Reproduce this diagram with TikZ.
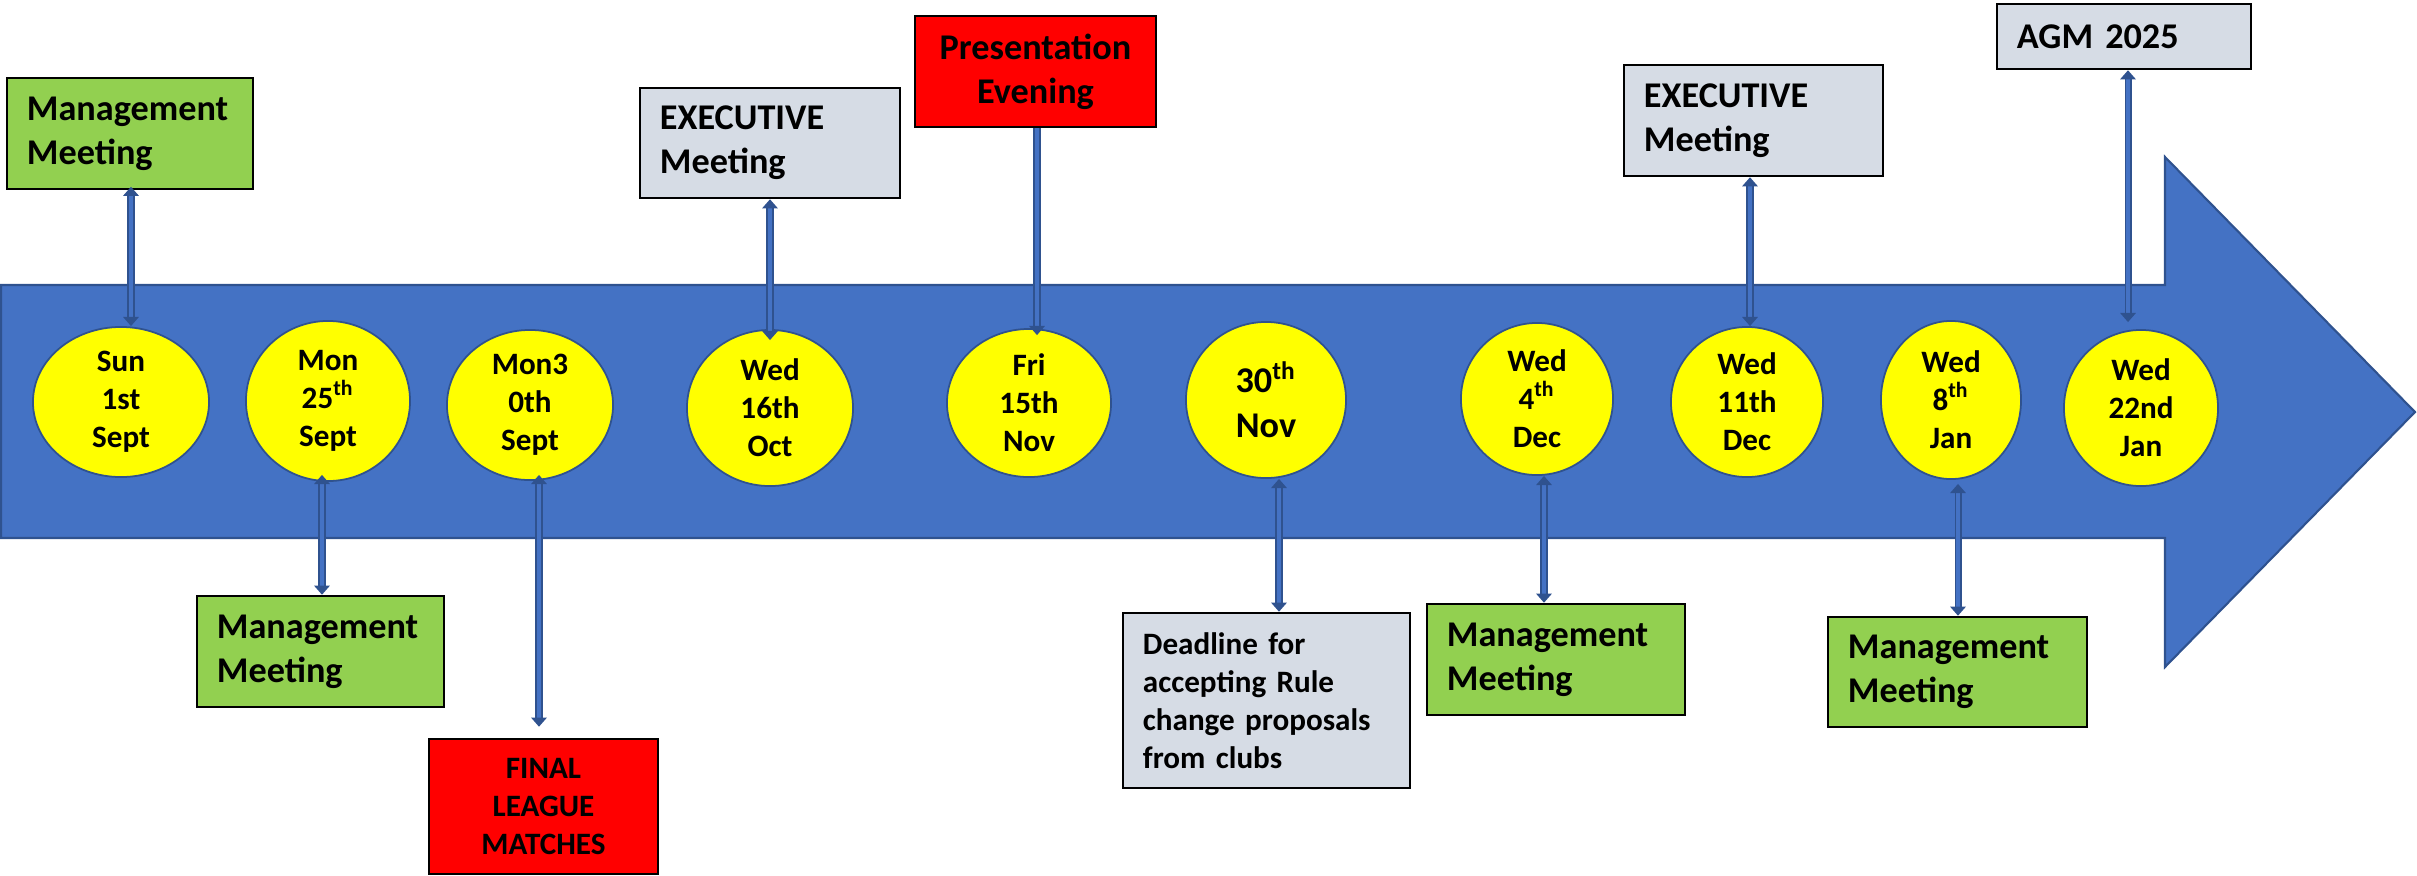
\documentclass[tikz,border=0pt]{standalone}
\usepackage{fontspec}
\setmainfont{Carlito}
\usetikzlibrary{shapes.geometric,arrows.meta}
\definecolor{barblue}{HTML}{4472C4}
\definecolor{dblue}{HTML}{2F528F}
\definecolor{dayyellow}{HTML}{FFFF00}
\definecolor{mgreen}{HTML}{92D050}
\definecolor{lgray}{HTML}{D6DCE5}
\definecolor{evred}{HTML}{FF0000}
\newcommand\evbig{\fontsize{10.3pt}{12.5pt}\selectfont\bfseries}
\newcommand\evsmall{\fontsize{8.85pt}{10.8pt}\selectfont\bfseries}
\newcommand\evmid{\fontsize{10.3pt}{12.8pt}\selectfont\bfseries}
\tikzset{
  evbox/.style={draw=black, line width=0.7pt, inner xsep=0.2cm, inner ysep=0pt, align=left, font=\evbig},
  cbox/.style={draw=black, line width=0.7pt, inner sep=0pt, align=center},
  day/.style={ellipse, draw=dblue, line width=0.5pt, fill=dayyellow, inner sep=0pt, align=center, font=\evsmall},
  conn/.style={draw=dblue, line width=0.55pt, double=barblue, double distance=0.9pt},
  tip/.tip={Triangle[length=2.6pt,width=4.4pt]},
  both/.style={conn, tip-tip},
  one/.style={conn, -tip}
}
\begin{document}
\begin{tikzpicture}[x=0.01cm, y=-0.01cm]
\useasboundingbox (0,0) rectangle (2417,875);
% timeline arrow
\path[fill=barblue, draw=dblue, line width=0.6pt]
  (1,285) -- (2165,285) -- (2165,157) -- (2415,412) -- (2165,667) -- (2165,538) -- (1,538) -- cycle;
% day ellipses
\node[day, minimum width=1.76cm, minimum height=1.50cm] (sun) at (121,402) {Sun\\1st\\Sept};
\node[day, minimum width=1.64cm, minimum height=1.60cm] (mon25) at (328,401) {Mon\\25\textsuperscript{th}\\Sept};
\node[day, minimum width=1.66cm, minimum height=1.50cm] (mon30) at (530,405) {Mon3\\0th\\Sept};
\node[day, minimum width=1.66cm, minimum height=1.56cm] (wed16) at (770,408) {Wed\\16th\\Oct};
\node[day, minimum width=1.64cm, minimum height=1.48cm] (fri) at (1029,403) {Fri\\15th\\Nov};
\node[day, minimum width=1.60cm, minimum height=1.56cm, font=\evmid] (nov30) at (1266,400) {30\textsuperscript{th}\\Nov};
\node[day, minimum width=1.52cm, minimum height=1.52cm] (wed4) at (1537,399) {Wed\\4\textsuperscript{th}\\Dec};
\node[day, minimum width=1.52cm, minimum height=1.50cm] (wed11) at (1747,402) {Wed\\11th\\Dec};
\node[day, minimum width=1.40cm, minimum height=1.58cm] (wed8) at (1951,400) {Wed\\8\textsuperscript{th}\\Jan};
\node[day, minimum width=1.54cm, minimum height=1.56cm] (wed22) at (2141,408) {Wed\\22nd\\Jan};
% event boxes
\node[evbox, fill=mgreen, text width=2.06cm, minimum height=1.11cm] (m1) at (130,133.5) {Management\\Meeting};
\node[evbox, fill=lgray, text width=2.20cm, minimum height=1.10cm] (ex1) at (770,143) {EXECUTIVE\\Meeting};
\node[cbox, fill=evred, font=\evbig, minimum width=2.41cm, minimum height=1.11cm] (pres) at (1035.5,71.5) {Presentation\\Evening};
\node[evbox, fill=lgray, text width=2.19cm, minimum height=1.11cm] (ex2) at (1753.5,120.5) {EXECUTIVE\\Meeting};
\node[evbox, fill=lgray, text width=2.14cm, minimum height=0.65cm] (agm) at (2124,36.5) {AGM 2025};
\node[evbox, fill=mgreen, text width=2.07cm, minimum height=1.11cm] (m2) at (320.5,651.5) {Management\\Meeting};
\node[cbox, fill=evred, font=\evsmall, minimum width=2.29cm, minimum height=1.35cm] (final) at (543.5,806.5) {FINAL\\LEAGUE\\MATCHES};
\node[evbox, fill=lgray, font=\evsmall, text width=2.47cm, minimum height=1.75cm] (dead) at (1266.5,700.5) {Deadline for\\accepting Rule\\change proposals\\from clubs};
\node[evbox, fill=mgreen, text width=2.18cm, minimum height=1.11cm] (m3) at (1556,659.5) {Management\\Meeting};
\node[evbox, fill=mgreen, text width=2.19cm, minimum height=1.10cm] (m4) at (1957.5,672) {Management\\Meeting};
% connector x positions
\coordinate (c1) at (131,0);
\coordinate (c2) at (322,0);
\coordinate (c3) at (539,0);
\coordinate (c4) at (770,0);
\coordinate (c5) at (1037,0);
\coordinate (c6) at (1279,0);
\coordinate (c7) at (1544,0);
\coordinate (c8) at (1750,0);
\coordinate (c9) at (1958,0);
\coordinate (c10) at (2128,0);
% connectors
\draw[both, shorten <=-1pt] (m1.south -| c1) -- (sun.north -| c1);
\draw[both, shorten >=-2pt] (m2.north -| c2) -- (mon25.south -| c2);
\draw[both, shorten >=0.11cm, shorten <=-0.06cm] (mon30.south -| c3) -- (final.north -| c3);
\draw[both, shorten >=-0.11cm] (ex1.south -| c4) -- (wed16.north -| c4);
\draw[one, shorten >=-0.07cm] (pres.south -| c5) -- (fri.north -| c5);
\draw[both] (nov30.south -| c6) -- (dead.north -| c6);
\draw[both] (wed4.south -| c7) -- (m3.north -| c7);
\draw[both] (ex2.south -| c8) -- (wed11.north -| c8);
\draw[both, shorten <=0.04cm] (wed8.south -| c9) -- (m4.north -| c9);
\draw[both, shorten >=0.07cm] (agm.south -| c10) -- (wed22.north -| c10);
\end{tikzpicture}
\end{document}
